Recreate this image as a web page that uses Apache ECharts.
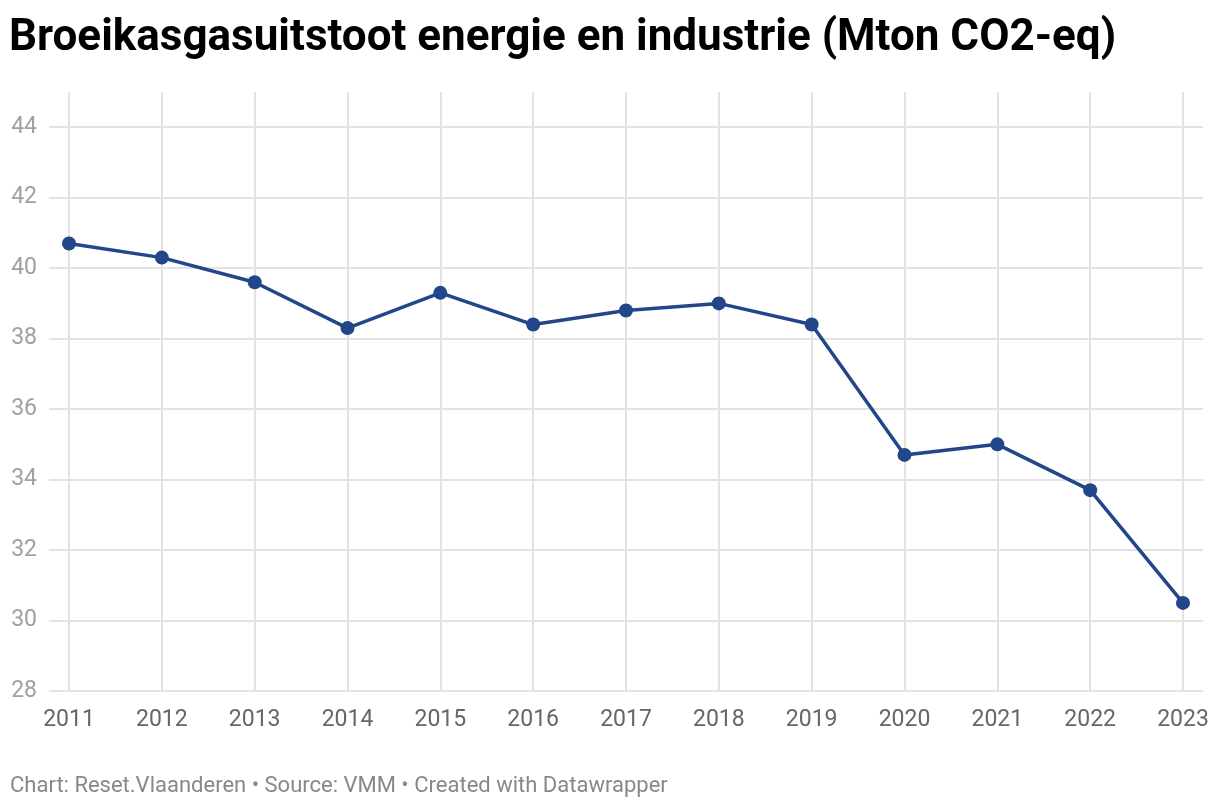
<!DOCTYPE html>
<html><head><meta charset="utf-8">
<script src="https://cdn.jsdelivr.net/npm/echarts@6/dist/echarts.min.js"></script>
<style>html,body{margin:0;padding:0;background:#fff}#c{width:1220px;height:808px}</style>
</head><body><div id="c"></div>
<script>
const years = ['2011','2012','2013','2014','2015','2016','2017','2018','2019','2020','2021','2022','2023'];
const emissions = [40.7, 40.3, 39.6, 38.3, 39.3, 38.4, 38.8, 39.0, 38.4, 34.7, 35.0, 33.7, 30.5];
const yTicks = [28, 30, 32, 34, 36, 38, 40, 42, 44];
const titleText = 'Broeikasgasuitstoot energie en industrie (Mton CO2-eq)';
const footerText = 'Chart: Reset.Vlaanderen • Source: VMM • Created with Datawrapper';

const chart = echarts.init(document.getElementById('c'), null, {renderer: 'canvas'});
const font = 'Roboto, "Noto Sans", sans-serif';
chart.setOption({
  backgroundColor: '#fff',
  animation: false,
  title: [
    {text: titleText, left: 4, top: 12, textStyle: {fontFamily: font, fontWeight: 'bold', fontSize: 44, color: '#000'}},
    {text: footerText, left: 5, top: 770, textStyle: {fontFamily: font, fontWeight: 'normal', fontSize: 22, color: '#888'}}
  ],
  grid: [
    {left: 49, right: 17, top: 127, bottom: 117},
    {left: 69, right: 37, top: 92, bottom: 117}
  ],
  xAxis: [
    {gridIndex: 0, type: 'category', data: years, show: false},
    {gridIndex: 1, type: 'category', data: years, boundaryGap: false,
     axisLine: {show: false}, axisTick: {show: false},
     axisLabel: {interval: 0, margin: 18, fontFamily: font, fontSize: 23, color: '#666'},
     splitLine: {show: true, interval: 0, lineStyle: {color: '#e3e3e3', width: 2}}}
  ],
  yAxis: [
    {gridIndex: 0, type: 'value', min: yTicks[0], max: yTicks[yTicks.length - 1], interval: 2,
     axisLine: {show: false}, axisTick: {show: false},
     axisLabel: {margin: 12, fontFamily: font, fontSize: 23, color: '#a0a0a0'},
     splitLine: {show: true, lineStyle: {color: '#e3e3e3', width: 2}}},
    {gridIndex: 1, type: 'value', min: 28, max: 45, show: false, splitLine: {show: false}}
  ],
  series: [{
    type: 'line', xAxisIndex: 1, yAxisIndex: 1, data: emissions,
    symbol: 'circle', symbolSize: 14,
    lineStyle: {color: '#22468a', width: 3.5},
    itemStyle: {color: '#22468a'}
  }]
});
</script></body></html>
